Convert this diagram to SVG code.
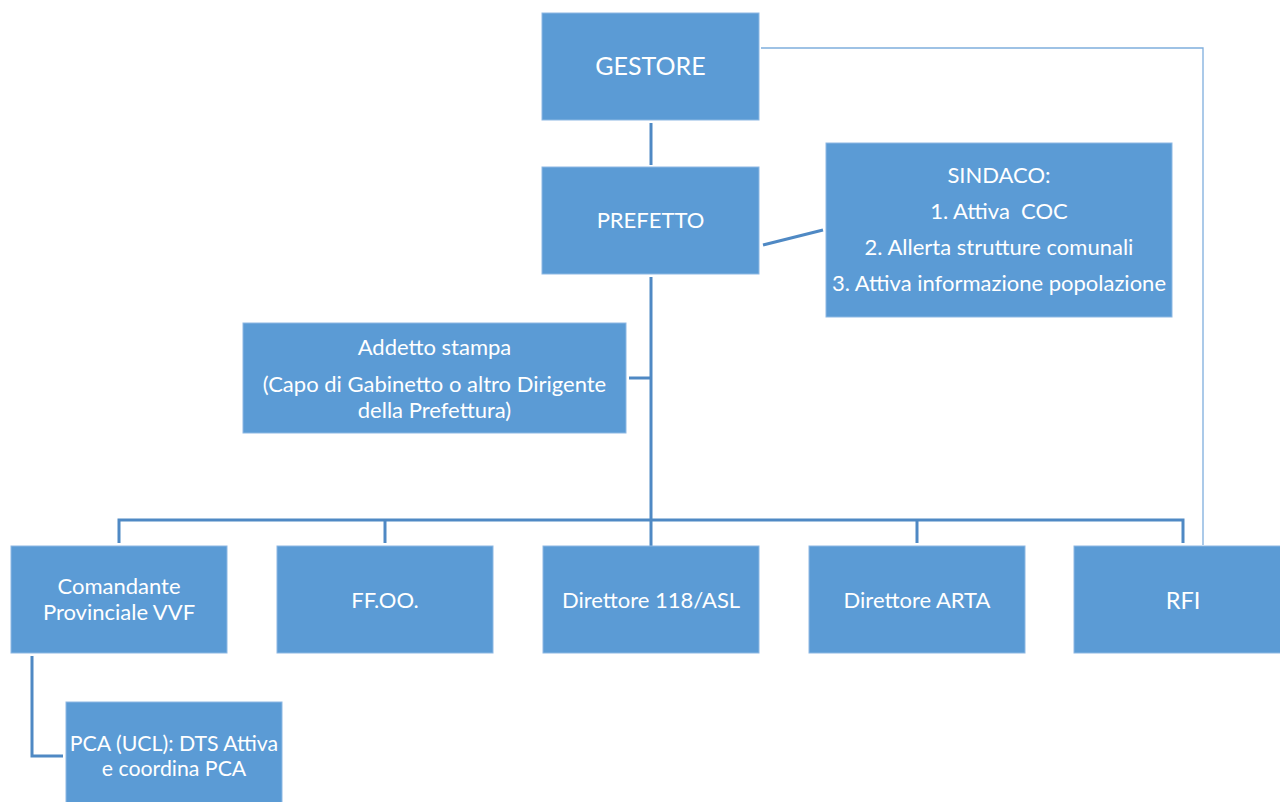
<svg xmlns="http://www.w3.org/2000/svg" width="1280" height="802" viewBox="0 0 1280 802">
<style>
.box{fill:#5B9BD5;stroke:#8DB8E3;stroke-width:1}
.t{fill:#FFFFFF;font-family:Lato,"Open Sans","Liberation Sans",sans-serif;font-size:22px;text-anchor:middle}
.big{font-size:25px}
.rfi{font-size:23.5px}
.sm{font-size:21.3px}
.c{fill:none;stroke:#4F89C4;stroke-width:3}
.thin{fill:none;stroke:#7FAEDD;stroke-width:1.3}
</style>
<rect width="1280" height="802" fill="#FFFFFF"/>
<g id="connectors">
<line class="c" x1="651" y1="123" x2="651" y2="165"/>
<line class="c" x1="763" y1="245" x2="823" y2="230"/>
<line class="c" x1="651" y1="277" x2="651" y2="546"/>
<line class="c" x1="629" y1="378" x2="651" y2="378"/>
<polyline class="c" points="119,543 119,520 1183,520 1183,543"/>
<line class="c" x1="385" y1="520" x2="385" y2="543"/>
<line class="c" x1="917" y1="520" x2="917" y2="543"/>
<polyline class="c" points="32,656 32,756 63,756"/>
<polyline class="thin" points="761,48 1203,48 1203,545"/>
</g>
<g id="gestore"><rect class="box" x="542" y="13" width="217" height="107"/><text class="t big" x="650.5" y="75">GESTORE</text></g>
<g id="prefetto"><rect class="box" x="542" y="167" width="217" height="107"/><text class="t" x="650.5" y="228">PREFETTO</text></g>
<g id="sindaco"><rect class="box" x="826" y="143" width="346" height="174"/>
<text class="t" x="999" y="183">SINDACO:</text>
<text class="t" x="999" y="219" style="white-space:pre">1. Attiva  COC</text>
<text class="t" x="999" y="255">2. Allerta strutture comunali</text>
<text class="t" x="999" y="291">3. Attiva informazione popolazione</text></g>
<g id="addetto"><rect class="box" x="243" y="323" width="383" height="110"/>
<text class="t" x="434.5" y="355">Addetto stampa</text>
<text class="t" x="434.5" y="392">(Capo di Gabinetto o altro Dirigente</text>
<text class="t" x="434.5" y="418">della Prefettura)</text></g>
<g id="comandante"><rect class="box" x="11" y="546" width="216" height="107"/>
<text class="t" x="119" y="594">Comandante</text>
<text class="t" x="119" y="620">Provinciale VVF</text></g>
<g id="ffoo"><rect class="box" x="277" y="546" width="216" height="107"/><text class="t" x="385" y="608">FF.OO.</text></g>
<g id="direttore118"><rect class="box" x="543" y="546" width="216" height="107"/><text class="t" x="651" y="608">Direttore 118/ASL</text></g>
<g id="arta"><rect class="box" x="809" y="546" width="216" height="107"/><text class="t" x="917" y="608">Direttore ARTA</text></g>
<g id="rfi"><rect class="box" x="1074" y="546" width="216" height="107"/><text class="t rfi" x="1183" y="609">RFI</text></g>
<g id="pca"><rect class="box" x="66" y="702" width="216" height="110"/>
<text class="t sm" x="174" y="751">PCA (UCL): DTS Attiva</text>
<text class="t sm" x="174" y="776">e coordina PCA</text></g>
</svg>
